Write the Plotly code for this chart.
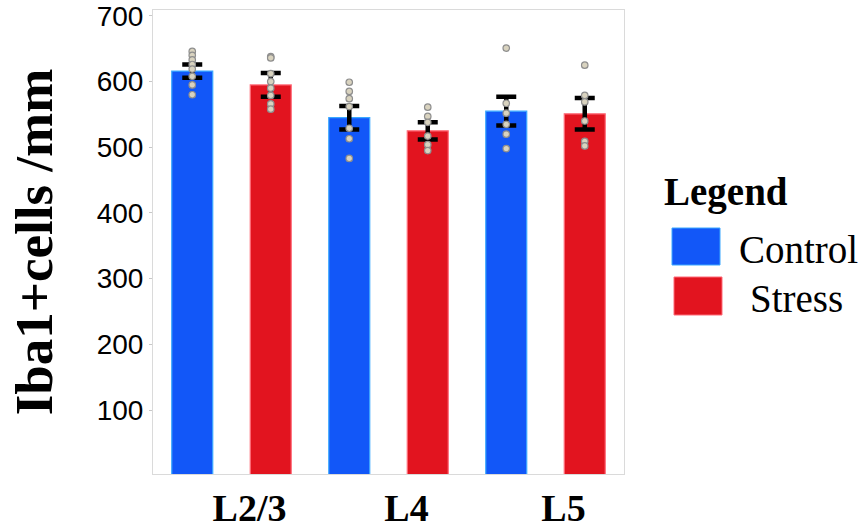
import plotly.graph_objects as go

categories = ["L2/3", "L4", "L5"]
series_names = ["Control", "Stress"]
series_colors = ["#1257F8", "#E2141F"]
edge_colors = ["#3AA8FF", "#FF6B78"]

control_mean = [616, 545, 555]
control_err = [10, 18, 22]
stress_mean = [595, 525, 551]
stress_err = [18, 13, 24]

control_points = [
    [646, 640, 633, 626, 619, 608, 595, 580],
    [599, 585, 574, 562, 529, 513, 483],
    [651, 567, 552, 535, 520, 498],
]
stress_points = [
    [638, 636, 612, 600, 590, 579, 566, 558],
    [561, 547, 538, 517, 504, 495],
    [625, 579, 569, 540, 509, 502],
]

y_ticks = [100, 200, 300, 400, 500, 600, 700]

means = [control_mean, stress_mean]
errs = [control_err, stress_err]
points = [control_points, stress_points]

fig = go.Figure()
for i, name in enumerate(series_names):
    fig.add_trace(go.Bar(
        x=categories, y=means[i], name=name, offsetgroup=str(i),
        marker=dict(color=series_colors[i], line=dict(color=edge_colors[i], width=1.2)),
        error_y=dict(type="data", array=errs[i], color="black", thickness=4.5, width=10),
        showlegend=False,
    ))
for i, name in enumerate(series_names):
    xs, ys = [], []
    for c, vals in zip(categories, points[i]):
        xs += [c] * len(vals)
        ys += vals
    fig.add_trace(go.Scatter(
        x=xs, y=ys, mode="markers", offsetgroup=str(i), showlegend=False,
        marker=dict(size=6.5, color="#D9D3BF", line=dict(color="#8E8E8E", width=1.2)),
    ))

# plot area in pixels
L, R, T, B = 153, 624, 10, 474
W, H = 864, 531

def px(x):
    return (x - L) / (R - L)

def py(y):
    return (B - y) / (B - T)

shapes = []
annotations = [dict(text="<b>Legend</b>", x=px(726), y=py(192), xref="paper", yref="paper",
                    xanchor="center", yanchor="middle", showarrow=False,
                    font=dict(family="Liberation Serif", size=39, color="black"))]
sw = [(672, 228, 720, 265), (674, 277, 722, 315)]
lab = [(798, 250), (796, 298)]
for i, name in enumerate(series_names):
    x0, y0, x1, y1 = sw[i]
    shapes.append(dict(type="rect", xref="paper", yref="paper", x0=px(x0), x1=px(x1),
                       y0=py(y1), y1=py(y0), fillcolor=series_colors[i],
                       line=dict(color=edge_colors[i], width=1)))
    annotations.append(dict(text=name, x=px(lab[i][0]), y=py(lab[i][1]), xref="paper", yref="paper",
                            xanchor="center", yanchor="middle", showarrow=False,
                            font=dict(family="Liberation Serif", size=39, color="black")))

fig.update_layout(
    width=W, height=H,
    margin=dict(l=L, r=W - R, t=T, b=H - B, autoexpand=False),
    paper_bgcolor="white", plot_bgcolor="white",
    barmode="group", bargap=0, bargroupgap=0.478,
    scattermode="group", scattergap=0,
    shapes=shapes, annotations=annotations,
    xaxis=dict(
        automargin=False,
        showline=True, mirror=True, linecolor="#DADADA", linewidth=1,
        ticks="", showgrid=False,
        tickfont=dict(family="Liberation Serif", size=38, color="black", weight="bold"),
        ticklabelshift=18, ticklabelstandoff=0,
    ),
    yaxis=dict(
        automargin=False,
        range=[2.6, 709], tickvals=y_ticks, ticklabeloverflow="allow",
        showline=True, mirror=True, linecolor="#DADADA", linewidth=1,
        ticks="outside", ticklen=3, tickcolor="#C8C8C8", showgrid=False, zeroline=False,
        tickfont=dict(family="Liberation Sans", size=28, color="black"),
        title=dict(text="<b>Iba1+cells /mm</b>", standoff=27,
                   font=dict(family="Liberation Serif", size=53, color="black")),
    ),
)

fig.write_html("out.html", config={"displayModeBar": False},
               post_script="document.body.style.margin='0';")
